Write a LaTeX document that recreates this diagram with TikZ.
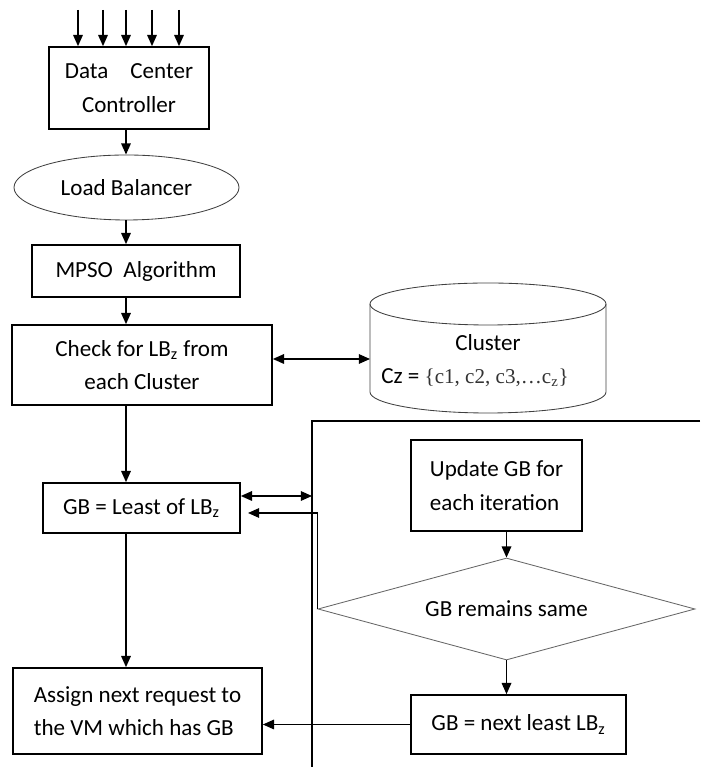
\documentclass[tikz,border=0pt]{standalone}
\usepackage{fontspec}
\setmainfont{Carlito}
\newfontfamily\setfont{Liberation Serif}
\usetikzlibrary{shapes.geometric,arrows.meta}

\begin{document}
\begin{tikzpicture}[font=\fontsize{16.4}{23.8}\selectfont,
  box/.style={very thick, draw=black, inner sep=0pt},
  arr/.style={line width=1pt, -{Triangle[length=0.28cm,width=0.24cm]}},
  dbl/.style={line width=1pt, {Triangle[length=0.28cm,width=0.24cm]}-{Triangle[length=0.28cm,width=0.24cm]}},
  outline/.style={line width=0.6pt, draw=black!75}]
\useasboundingbox (0,0) rectangle (17.5,19.175);

\node [box, minimum width=4cm, minimum height=2.05cm, align=center] (dcc) at (3.225,16.975) {Data\hspace{0.95em}Center\\Controller};
\node [outline, ellipse, minimum width=5.625cm, minimum height=1.625cm] (lb) at (3.1625,14.4875) {Load Balancer};
\node [box, minimum width=5.2cm, minimum height=1.3cm] (mpso) at (3.4,12.4) {MPSO~~Algorithm};
\node [box, minimum width=6.5cm, minimum height=2cm, align=center] (check) at (3.55,10.05) {Check for LB\textsubscript{z} from\\each Cluster};
\node [box, minimum width=4.925cm, minimum height=1.25cm] (gb) at (3.5375,6.475) {GB = Least of LB\textsubscript{z}};
\node [box, minimum width=6.225cm, minimum height=2.15cm, align=left] (asg) at (3.4375,1.4) {Assign next request to\\the VM which has GB};

% cluster store
\draw [outline] (12.2,11.575) ellipse (2.95 and 0.525);
\draw [outline] (9.25,11.575) -- (9.25,9.375) arc [start angle=180, end angle=360, x radius=2.95, y radius=0.525] -- (15.15,11.575);
\node (clu) at (12.2,10.6) {Cluster};
\node (cluset) at (11.875,9.725) {Cz = {\setfont\fontsize{15}{18}\selectfont\color{black!80}\{c1, c2, c3,…c\textsubscript{z}\}}};

% iteration frame
\draw [very thick] (17.5,8.65) -- (7.8,8.65) -- (7.8,0);
\coordinate (fr) at (7.8,6.775);

\node [box, minimum width=4.275cm, minimum height=2.275cm, align=left] (upd) at (12.4125,7.0375) {Update GB for\\each iteration};
\node [outline, draw=black!60, diamond, aspect=3.7, minimum width=9.425cm, minimum height=2.55cm, inner sep=0pt] (dia) at (12.6625,3.95) {GB remains same};
\node [box, minimum width=5.375cm, minimum height=1.475cm] (nxt) at (12.9625,1.0625) {GB = next least LB\textsubscript{z}};

% incoming requests
\foreach \x [count=\i] in {1.95,2.575,3.15,3.8,4.475} {
  \coordinate (in\i) at (\x,18.925);
  \draw [arr] (in\i) -- (in\i |- dcc.north);
}

\coordinate (col) at (3.15,0);
\draw [arr] (col |- dcc.south) -- (col |- lb.north);
\draw [arr] (col |- lb.south) -- (col |- mpso.north);
\draw [arr] (col |- mpso.south) -- (col |- check.north);
\draw [arr] (col |- check.south) -- (col |- gb.north);
\draw [arr] (col |- gb.south) -- (col |- asg.north);

\coordinate (cluin) at (9.25,10.2);
\draw [dbl] (check.east |- cluin) -- (cluin);
\draw [dbl] (gb.east |- fr) -- (fr);

\coordinate (gbin) at (6.2,6.35);
\draw [arr] (dia.west) |- (gbin);
\draw [arr] (upd.south -| dia.north) -- (dia.north);
\draw [arr] (dia.south) -- (dia.south |- nxt.north);
\draw [arr] (nxt.west) -- (nxt.west -| asg.east);

\end{tikzpicture}
\end{document}
